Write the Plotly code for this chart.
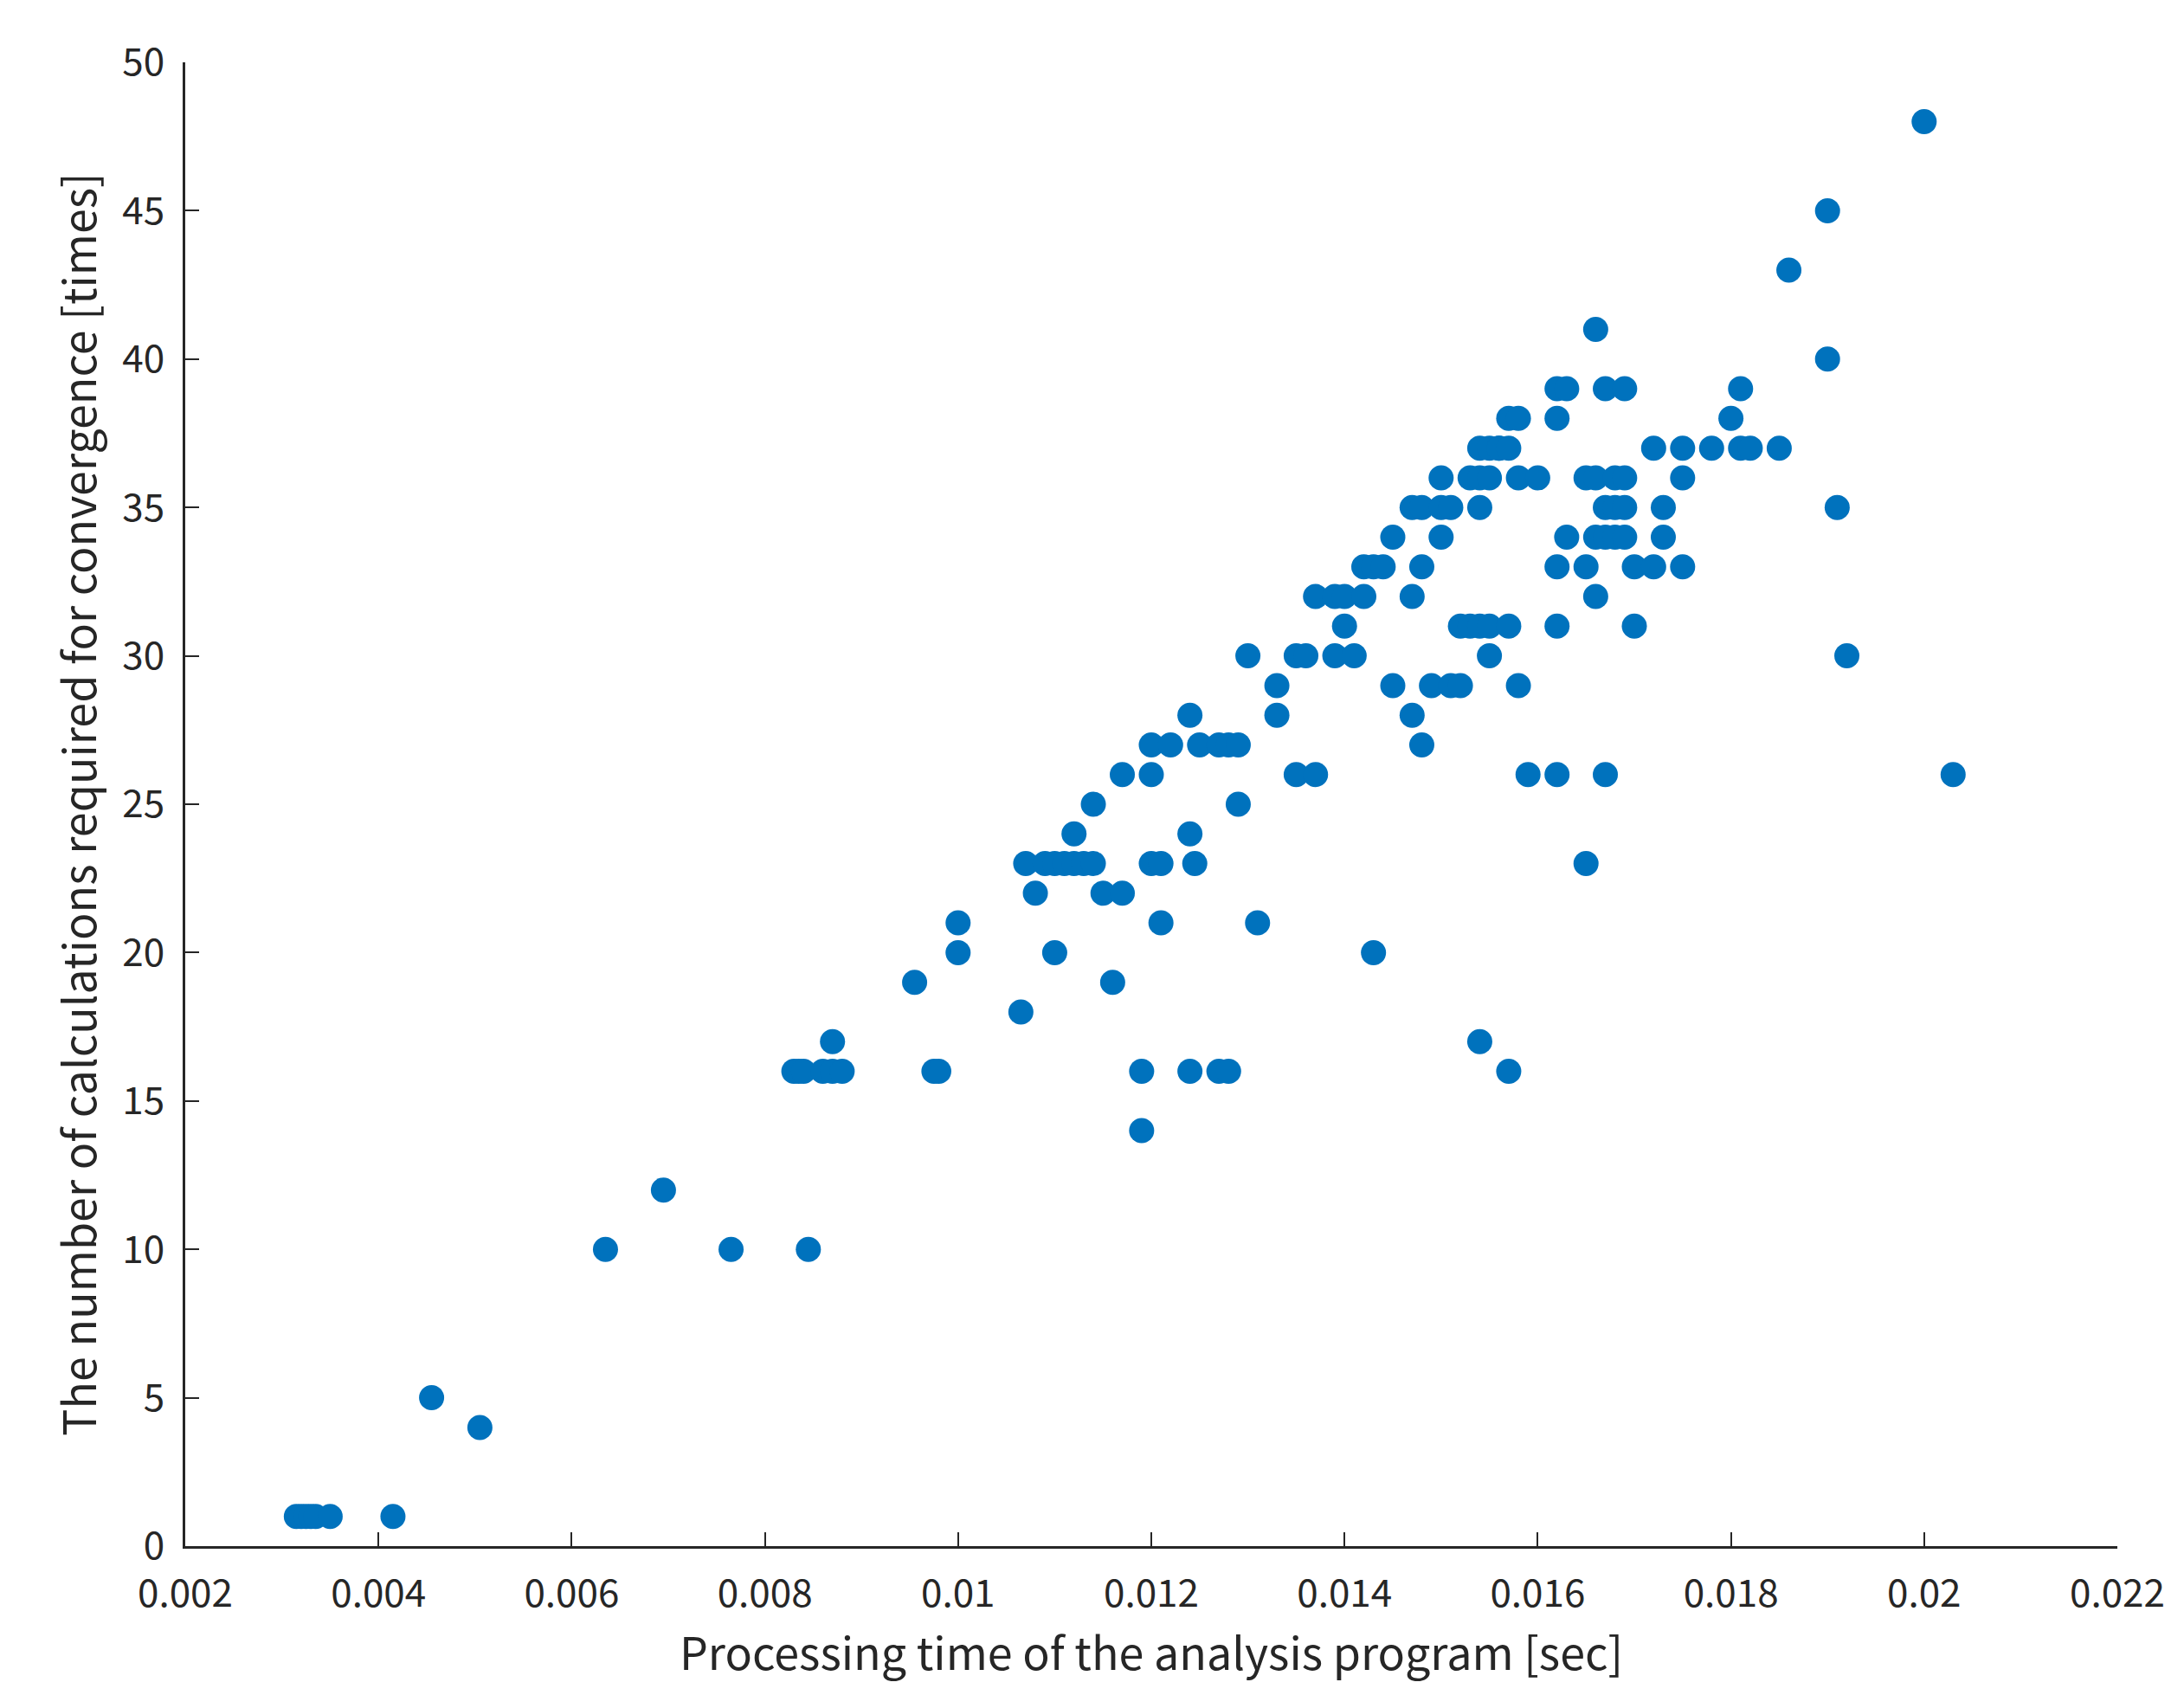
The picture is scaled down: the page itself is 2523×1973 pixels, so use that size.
import plotly.graph_objects as go

pts = [(0.00315,1),(0.0032,1),(0.00325,1),(0.0033,1),(0.00335,1),(0.0035,1),(0.00415,1),(0.00455,5),(0.00505,4),(0.00635,10),(0.00695,12),(0.00765,10),(0.00845,10),
(0.0083,16),(0.00835,16),(0.0084,16),(0.0086,16),(0.0087,17),(0.0087,16),(0.0088,16),
(0.00955,19),(0.00975,16),(0.0098,16),(0.01,20),(0.01,21),(0.01065,18),(0.0107,23),(0.0108,22),(0.0109,23),(0.011,20),(0.011,23),(0.0111,23),(0.0112,24),(0.0112,23),(0.0113,23),(0.0114,23),(0.0114,25),(0.0115,22),(0.0116,19),(0.0117,22),(0.0117,26),(0.0119,16),(0.0119,14),(0.012,26),(0.012,27),(0.012,23),(0.0121,23),(0.0121,21),(0.0122,27),(0.0124,28),(0.0124,24),(0.0124,16),(0.01245,23),(0.0125,27),(0.0127,27),(0.0127,16),(0.0128,16),(0.0128,27),(0.0129,27),(0.0129,25),(0.013,30),(0.0131,21),(0.0133,29),(0.0133,28),(0.0135,30),(0.0135,26),(0.0136,30),(0.0137,26),(0.0137,32),(0.0139,32),(0.014,32),(0.0139,30),(0.014,31),(0.0141,30),(0.0142,33),(0.0142,32),(0.0143,33),(0.0143,20),(0.0144,33),(0.0145,34),(0.0145,29),(0.0147,35),(0.0147,28),(0.0147,32),(0.0148,35),(0.0148,33),(0.0148,27),(0.0149,29),(0.015,35),(0.015,36),(0.015,34),(0.0151,35),(0.0151,29),(0.0152,31),(0.0152,29),(0.0153,36),(0.0153,31),(0.0154,36),(0.0154,37),(0.0154,35),(0.0154,31),(0.0154,17),(0.0155,37),(0.0155,36),(0.0155,31),(0.0156,37),(0.0155,30),(0.0156,37),(0.0157,38),(0.0157,37),(0.0157,31),(0.0157,16),(0.0158,38),(0.0158,36),(0.0158,29),(0.0159,26),(0.016,36),(0.0162,33),(0.0162,38),(0.0162,39),(0.0162,31),(0.0162,26),(0.0163,39),(0.0163,34),(0.0165,33),(0.0165,36),(0.0165,23),(0.0166,41),(0.0166,34),(0.0166,32),(0.0166,36),(0.0167,35),(0.0167,34),(0.0167,39),(0.0167,26),(0.0168,36),(0.0168,35),(0.0168,34),(0.0169,39),(0.0169,36),(0.0169,34),(0.0169,35),(0.017,33),(0.017,31),(0.0172,37),(0.0172,33),(0.0173,35),(0.0173,34),(0.0175,37),(0.0175,36),(0.0175,33),(0.0178,37),(0.018,38),(0.0181,39),(0.0181,37),(0.0182,37),(0.0185,37),(0.0186,43),(0.019,45),(0.019,40),(0.0191,35),(0.0192,30),(0.0200,48),(0.0203,26)]

processing_time = [p[0] for p in pts]
calculations = [p[1] for p in pts]

fig = go.Figure(go.Scatter(x=processing_time, y=calculations, mode="markers",
                           marker=dict(color="#0072BD", size=29, line=dict(width=0))))
font = "Noto Sans CJK JP"
axis = dict(showline=True, linecolor="#262626", linewidth=3, ticks="inside", ticklen=16,
            tickwidth=2, tickcolor="#262626", showgrid=False, zeroline=False,
            tickfont=dict(size=44, color="#262626", family=font))
fig.update_layout(
    width=2523, height=1973, plot_bgcolor="white", paper_bgcolor="white",
    margin=dict(l=206, r=85, t=64, b=195), showlegend=False,
    xaxis=dict(range=[0.002, 0.022], tickvals=[0.002+0.002*i for i in range(11)],
               ticktext=["0.002","0.004","0.006","0.008","0.01","0.012","0.014","0.016","0.018","0.02","0.022"],
               ticklabelstandoff=14,
               title=dict(text="Processing time of the analysis program [sec]", font=dict(size=52, color="#262626", family=font), standoff=12),
               **axis),
    yaxis=dict(range=[0, 50], dtick=5, ticklabelstandoff=12,
               title=dict(text="The number of calculations required for convergence [times]", font=dict(size=52, color="#262626", family=font), standoff=14),
               **axis),
)
fig.write_html("out.html")
